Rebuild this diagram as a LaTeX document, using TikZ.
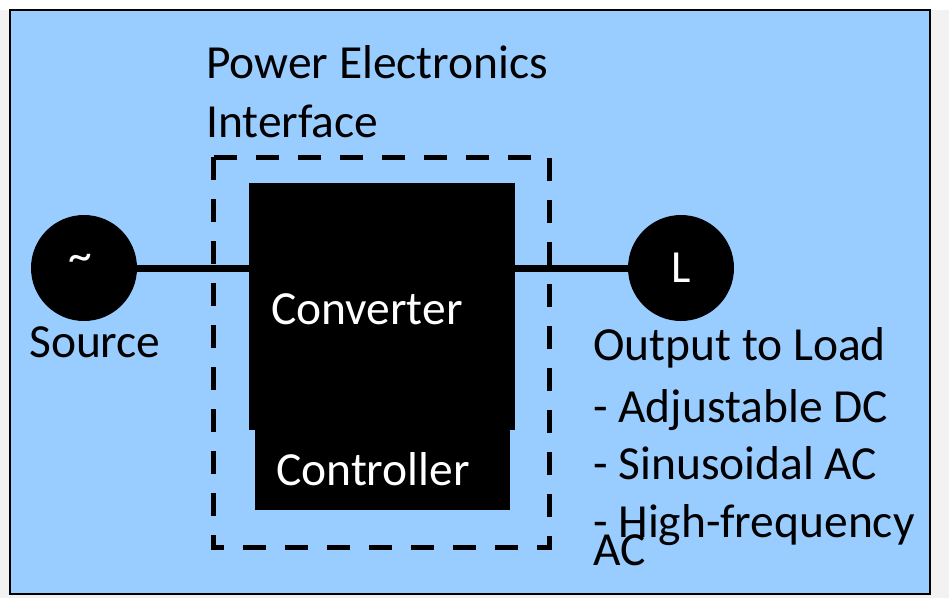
\documentclass[tikz,border=0pt]{standalone}
\usepackage{fontspec}
\setmainfont{Carlito}
\definecolor{bgblue}{HTML}{99CCFF}
\definecolor{outgray}{HTML}{F2F2F2}
\begin{document}
\begin{tikzpicture}[x=1pt,y=-1pt,
  txt/.style={font=\fontsize{47.5}{57}\selectfont, inner sep=0pt, anchor=base west},
  wtxt/.style={txt, text=white},
  blockbox/.style={fill=black, draw=none, inner sep=0pt},
  endcircle/.style={circle, fill=black, draw=none, minimum size=106pt, inner sep=0pt, text=white, font=\fontsize{46}{56}\selectfont},
  wire/.style={line width=7pt},
  interface/.style={draw=black, line width=5pt, dash pattern=on 23pt off 19pt}
]
\useasboundingbox (0,0) rectangle (949,598);
\fill[outgray] (0,0) rectangle (949,598);
\fill[white] (0,0) rectangle (949,10);
\draw[fill=bgblue, line width=1.5pt] (10,10) rectangle (930,594);

% dashed interface box
\draw[interface] (213,157) rectangle (549,547);

% blocks
\node[blockbox, minimum width=255pt, minimum height=80pt] (ctrl) at (382.5,470) {};
\node[blockbox, minimum width=266pt, minimum height=247pt] (conv) at (382,306.5) {};
\node[wtxt] (convlabel) at (271,324) {Converter};
\node[wtxt] (ctrllabel) at (276,485) {Controller};

% source and load
\node[endcircle] (src) at (84,268) {};
\node[wtxt, anchor=center] (tilde) at (80,263) {\char"007E};
\node[endcircle] (load) at (681,268) {L};

% wires
\draw[wire] (src.east) -- (conv.west |- src.east);
\draw[wire] (conv.east |- load.west) -- (load.west);

% labels
\node[txt] (pe1) at (206,78) {Power Electronics};
\node[txt] (pe2) at (206,137) {Interface};
\node[txt] (srclabel) at (29,357) {Source};
\node[txt] (out0) at (593,360) {Output to Load};
\node[txt] (out1) at (593,422) {- Adjustable DC};
\node[txt] (out2) at (593,479) {- Sinusoidal AC};
\node[txt] (out3) at (593,537) {- High-frequency};
\node[txt] (out4) at (593,565) {AC};
\end{tikzpicture}
\end{document}
